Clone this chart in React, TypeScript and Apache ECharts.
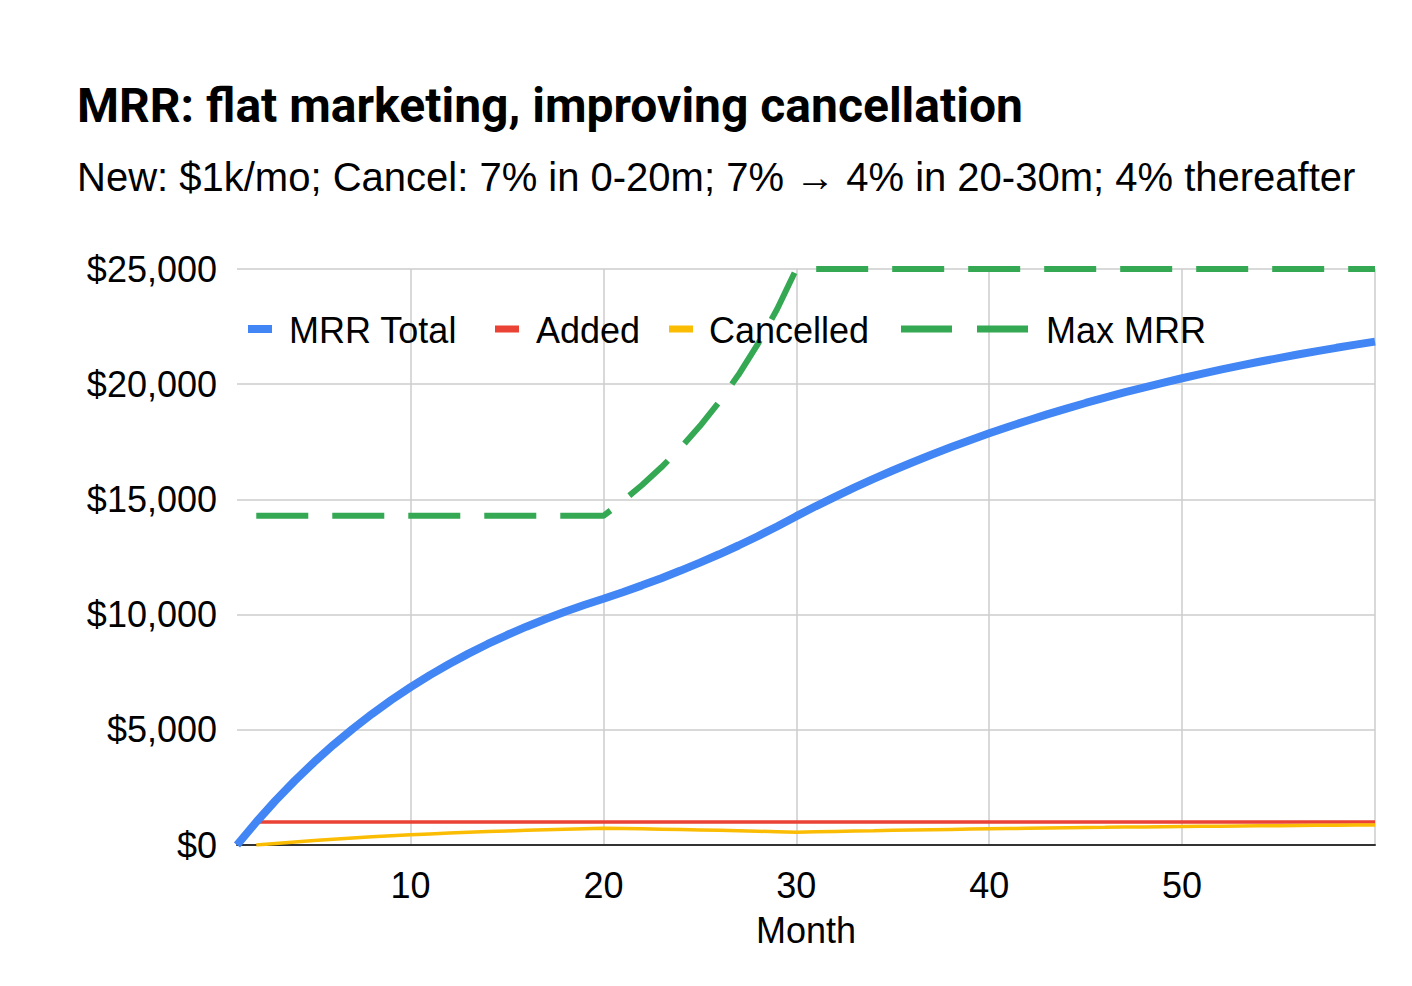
import React, { useEffect, useRef } from "react";
import * as echarts from "echarts";

const titleText = "MRR: flat marketing, improving cancellation";
const subtitleText = "New: $1k/mo; Cancel: 7% in 0-20m; 7% \u2192 4% in 20-30m; 4% thereafter";

const months = [
  "1", "2", "3", "4", "5", "6", "7", "8", "9", "10",
  "11", "12", "13", "14", "15", "16", "17", "18", "19", "20",
  "21", "22", "23", "24", "25", "26", "27", "28", "29", "30",
  "31", "32", "33", "34", "35", "36", "37", "38", "39", "40",
  "41", "42", "43", "44", "45", "46", "47", "48", "49", "50",
  "51", "52", "53", "54", "55", "56", "57", "58", "59", "60",
];

const mrrTotal = [
  0, 1000, 1930, 2795, 3599, 4347, 5043, 5690, 6292, 6851,
  7372, 7856, 8306, 8724, 9114, 9476, 9812, 10126, 10417, 10688,
  10972, 11269, 11582, 11910, 12255, 12618, 12999, 13401, 13825, 14272,
  14701, 15113, 15509, 15888, 16253, 16603, 16939, 17261, 17571, 17868,
  18153, 18427, 18690, 18942, 19185, 19417, 19641, 19855, 20061, 20258,
  20448, 20630, 20805, 20973, 21134, 21288, 21437, 21579, 21716, 21848,
];

const added = [
  null, 1000, 1000, 1000, 1000, 1000, 1000, 1000, 1000, 1000,
  1000, 1000, 1000, 1000, 1000, 1000, 1000, 1000, 1000, 1000,
  1000, 1000, 1000, 1000, 1000, 1000, 1000, 1000, 1000, 1000,
  1000, 1000, 1000, 1000, 1000, 1000, 1000, 1000, 1000, 1000,
  1000, 1000, 1000, 1000, 1000, 1000, 1000, 1000, 1000, 1000,
  1000, 1000, 1000, 1000, 1000, 1000, 1000, 1000, 1000, 1000,
];

const cancelled = [
  null, 0, 70, 135, 196, 252, 304, 353, 398, 440,
  480, 516, 550, 581, 611, 638, 663, 687, 709, 729,
  716, 702, 687, 672, 655, 637, 618, 598, 576, 553,
  571, 588, 605, 620, 636, 650, 664, 678, 690, 703,
  715, 726, 737, 748, 758, 767, 777, 786, 794, 802,
  810, 818, 825, 832, 839, 845, 852, 858, 863, 869,
];

const maxMrr = [
  null, 14286, 14286, 14286, 14286, 14286, 14286, 14286, 14286, 14286,
  14286, 14286, 14286, 14286, 14286, 14286, 14286, 14286, 14286, 14286,
  14925, 15625, 16393, 17241, 18182, 19231, 20408, 21739, 23256, 25000,
  25000, 25000, 25000, 25000, 25000, 25000, 25000, 25000, 25000, 25000,
  25000, 25000, 25000, 25000, 25000, 25000, 25000, 25000, 25000, 25000,
  25000, 25000, 25000, 25000, 25000, 25000, 25000, 25000, 25000, 25000,
];

const seriesNames = ["MRR Total", "Added", "Cancelled", "Max MRR"];
const seriesColors = ["#4285F4", "#EA4335", "#FBBC04", "#34A853"];

const AXIS_FONT = "Arial, 'Liberation Sans', sans-serif";

export default function App() {
  const ref = useRef<HTMLDivElement>(null);

  useEffect(() => {
    if (!ref.current) return;
    const chart = echarts.init(ref.current, undefined, { renderer: "svg" });

    const legendY = 330;
    const legendText = (text: string, x: number) => ({
      type: "text",
      x,
      y: legendY,
      style: {
        text,
        fill: "#000",
        fontSize: 36,
        fontFamily: AXIS_FONT,
        verticalAlign: "middle",
        align: "left",
      },
      z: 100,
    });
    const legendRect = (x: number, w: number, h: number, color: string) => ({
      type: "rect",
      shape: { x, y: legendY - h / 2 - 1, width: w, height: h },
      style: { fill: color },
      z: 100,
    });

    chart.setOption({
      animation: false,
      backgroundColor: "#fff",
      title: [
        {
          text: titleText,
          left: 77,
          top: 81,
          padding: 0,
          textStyle: {
            fontFamily: "Roboto",
            fontWeight: "bold",
            fontSize: 48,
            color: "#000",
          },
        },
        {
          text: subtitleText,
          left: 77,
          top: 157,
          padding: 0,
          textStyle: {
            fontFamily: AXIS_FONT,
            fontWeight: "normal",
            fontSize: 40,
            color: "#000",
          },
        },
      ],
      grid: { left: 237, right: 37, top: 269, bottom: 141, containLabel: false },
      xAxis: {
        type: "category",
        data: months,
        boundaryGap: false,
        name: "Month",
        nameLocation: "middle",
        nameGap: 67,
        nameTextStyle: { fontFamily: AXIS_FONT, fontSize: 36, color: "#000" },
        axisLine: { show: true, lineStyle: { color: "#333", width: 2 } },
        axisTick: { show: false },
        axisLabel: {
          interval: (index: number) => index % 10 === 9 && index !== 59,
          margin: 22,
          fontFamily: AXIS_FONT,
          fontSize: 36,
          color: "#000",
        },
        splitLine: {
          show: true,
          interval: (index: number) => index % 10 === 9,
          lineStyle: { color: "#ccc", width: 1.5 },
        },
      },
      yAxis: {
        type: "value",
        min: 0,
        max: 25000,
        interval: 5000,
        axisLine: { show: false },
        axisTick: { show: false },
        axisLabel: {
          margin: 20,
          fontFamily: AXIS_FONT,
          fontSize: 36,
          color: "#000",
          formatter: (v: number) => "$" + v.toLocaleString("en-US"),
        },
        splitLine: { show: true, lineStyle: { color: "#ccc", width: 1.5 } },
      },
      series: [
        {
          name: seriesNames[0],
          type: "line",
          data: mrrTotal,
          showSymbol: false,
          lineStyle: { color: seriesColors[0], width: 8 },
          itemStyle: { color: seriesColors[0] },
          z: 4,
        },
        {
          name: seriesNames[1],
          type: "line",
          data: added,
          showSymbol: false,
          lineStyle: { color: seriesColors[1], width: 3.5 },
          itemStyle: { color: seriesColors[1] },
          z: 3,
        },
        {
          name: seriesNames[2],
          type: "line",
          data: cancelled,
          showSymbol: false,
          lineStyle: { color: seriesColors[2], width: 3.5 },
          itemStyle: { color: seriesColors[2] },
          z: 3,
        },
        {
          name: seriesNames[3],
          type: "line",
          data: maxMrr,
          showSymbol: false,
          lineStyle: { color: seriesColors[3], width: 6, type: [52, 24] },
          itemStyle: { color: seriesColors[3] },
          z: 5,
        },
      ],
      graphic: [
        legendRect(248, 24, 8, seriesColors[0]),
        legendText(seriesNames[0], 289),
        legendRect(495, 24, 7, seriesColors[1]),
        legendText(seriesNames[1], 536),
        legendRect(669, 24, 7, seriesColors[2]),
        legendText(seriesNames[2], 709),
        legendRect(901, 51, 7, seriesColors[3]),
        legendRect(977, 51, 7, seriesColors[3]),
        legendText(seriesNames[3], 1046),
      ],
    });

    return () => chart.dispose();
  }, []);

  return <div ref={ref} style={{ width: 1412, height: 986, margin: -8 }} />;
}
